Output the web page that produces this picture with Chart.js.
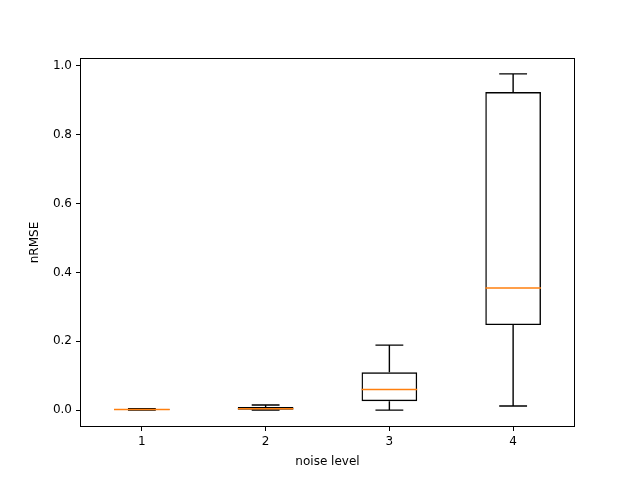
<!DOCTYPE html>
<html>
<head>
<meta charset="utf-8">
<script src="https://cdn.jsdelivr.net/npm/chart.js@4"></script>
<style>
  html, body { margin: 0; padding: 0; background: #fff; }
  #wrap { width: 640px; height: 480px; }
</style>
</head>
<body>
<div id="wrap"><canvas id="boxChart" width="640" height="480"></canvas></div>
<script>

const noiseLevels = ['1', '2', '3', '4'];
const whiskerLow = [0.000, 0.000, 0.000, 0.012];
const q1Values = [0.001, 0.001, 0.026, 0.247];
const medianValues = [0.002, 0.004, 0.060, 0.355];
const q3Values = [0.003, 0.009, 0.110, 0.924];
const whiskerHigh = [0.004, 0.015, 0.189, 0.977];
const yTickValues = [0.0, 0.2, 0.4, 0.6, 0.8, 1.0];

const FONT = "'DejaVu Sans', sans-serif";
const LINE_W = 1.4;
const BOX_FRACTION = 0.45;

// whiskers, caps and medians go on top of the floating bars
const boxExtras = {
    id: 'boxExtras',
    afterDatasetsDraw(chart) {
        const ctx = chart.ctx;
        const xs = chart.scales.x;
        const ys = chart.scales.y;
        const catWidth = xs.width / noiseLevels.length;
        const half = catWidth * BOX_FRACTION / 2;
        ctx.save();
        ctx.lineWidth = LINE_W;
        noiseLevels.forEach((lvl, i) => {
            const cx = xs.getPixelForValue(i);
            const yLow = ys.getPixelForValue(whiskerLow[i]);
            const yQ1 = ys.getPixelForValue(q1Values[i]);
            const yQ3 = ys.getPixelForValue(q3Values[i]);
            const yHigh = ys.getPixelForValue(whiskerHigh[i]);
            const yMed = ys.getPixelForValue(medianValues[i]);

            ctx.strokeStyle = '#000';
            ctx.beginPath();
            ctx.moveTo(cx, yQ1); ctx.lineTo(cx, yLow);
            ctx.moveTo(cx, yQ3); ctx.lineTo(cx, yHigh);
            ctx.moveTo(cx - half / 2, yLow); ctx.lineTo(cx + half / 2, yLow);
            ctx.moveTo(cx - half / 2, yHigh); ctx.lineTo(cx + half / 2, yHigh);
            ctx.stroke();

            ctx.strokeStyle = '#ff7f0e';
            ctx.beginPath();
            ctx.moveTo(cx - half, yMed); ctx.lineTo(cx + half, yMed);
            ctx.stroke();
        });
        ctx.restore();
    },
    afterDraw(chart) {
        const a = chart.chartArea;
        const ctx = chart.ctx;
        ctx.save();
        ctx.strokeStyle = '#000';
        ctx.lineWidth = 1;
        ctx.strokeRect(Math.round(a.left) + 0.5, Math.round(a.top) + 0.5,
            Math.round(a.right - a.left) - 1, Math.round(a.bottom - a.top) - 1);
        ctx.restore();
    }
};

const ctx = document.getElementById('boxChart').getContext('2d');
new Chart(ctx, {
    type: 'bar',
    data: {
        labels: noiseLevels,
        datasets: [{
            data: noiseLevels.map((l, i) => [q1Values[i], q3Values[i]]),
            backgroundColor: 'rgba(0,0,0,0)',
            borderColor: '#000',
            borderWidth: LINE_W,
            borderSkipped: false,
            categoryPercentage: 1.0,
            barPercentage: BOX_FRACTION
        }]
    },
    options: {
        responsive: false,
        animation: false,
        layout: { padding: { top: 58, right: 65, left: 0, bottom: 0 } },
        plugins: {
            legend: { display: false },
            tooltip: { enabled: false }
        },
        scales: {
            x: {
                offset: true,
                grid: { display: true, offset: false, drawOnChartArea: false, drawTicks: true, tickLength: 4, color: '#000' },
                border: { display: false },
                ticks: { color: '#000', font: { family: FONT, size: 12 }, padding: 4 },
                title: { display: true, text: 'noise level', color: '#000', font: { family: FONT, size: 12 }, padding: { top: 0, bottom: 11 } },
                afterFit(scale) { scale.height = 53; }
            },
            y: {
                min: -0.049,
                max: 1.023,
                grid: { display: true, drawOnChartArea: false, drawTicks: true, tickLength: 4, color: '#000' },
                border: { display: false },
                afterBuildTicks(scale) { scale.ticks = yTickValues.map(v => ({ value: v })); },
                ticks: {
                    color: '#000',
                    font: { family: FONT, size: 12 },
                    padding: 4,
                    callback: v => Number(v).toFixed(1)
                },
                title: { display: true, text: 'nRMSE', color: '#000', font: { family: FONT, size: 12 }, padding: { top: 28, bottom: 0 } },
                afterFit(scale) { scale.width = 80; }
            }
        }
    },
    plugins: [boxExtras]
});
</script>
</body>
</html>
